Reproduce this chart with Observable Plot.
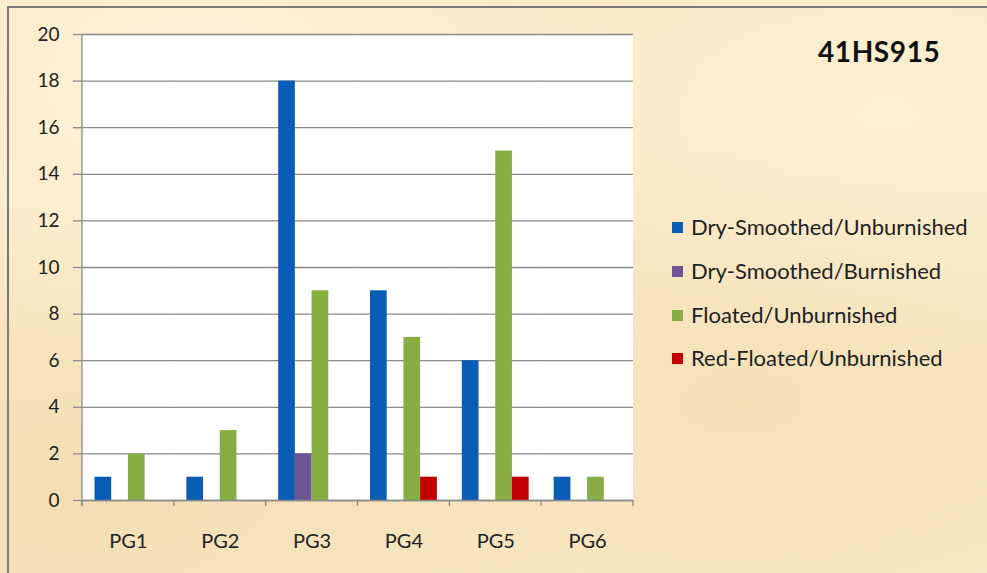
<!DOCTYPE html>
<html>
<head>
<meta charset="utf-8">
<script src="https://cdn.jsdelivr.net/npm/d3@7"></script>
<script src="https://cdn.jsdelivr.net/npm/@observablehq/plot@0.6"></script>
<style>
  html, body { margin: 0; padding: 0; }
  body {
    width: 987px; height: 573px; overflow: hidden;
    background:
      radial-gradient(ellipse at 20% 15%, rgba(255,248,225,0.7), rgba(255,248,225,0) 40%),
      radial-gradient(ellipse at 75% 70%, rgba(240,215,170,0.45), rgba(240,215,170,0) 45%),
      radial-gradient(ellipse at 10% 85%, rgba(238,212,165,0.5), rgba(238,212,165,0) 40%),
      radial-gradient(ellipse at 90% 20%, rgba(255,245,220,0.6), rgba(255,245,220,0) 40%),
      #f9e8c4;
    font-family: Lato, "Open Sans", sans-serif;
  }
  #wrap { position: relative; width: 987px; height: 573px; }
  #frame { position: absolute; left: 7px; top: 6px; right: -10px; bottom: -10px;
           border-left: 2px solid #7a7a7a; border-top: 2px solid #7a7a7a; pointer-events: none; }
  #chart svg { position: absolute; left: 0; top: 0; background: transparent; }
  #title { position: absolute; left: 818px; top: 37px; font-size: 28px; letter-spacing: 0.6px; font-weight: bold; color: #111; line-height: 1; }
  #legend { position: absolute; left: 672px; top: 0; }
  .item { position: absolute; left: 0; white-space: nowrap; display: flex; align-items: center; font-size: 22px; line-height: 24px; height: 24px; color: #222; }
  .sw { width: 11px; height: 11px; margin-right: 8px; }
</style>
</head>
<body>
<div id="wrap">
  <div id="chart"></div>
  <div id="title"></div>
  <div id="legend"></div>
  <div id="frame"></div>
</div>
<script>
const title = "41HS915";
const groups = ["PG1", "PG2", "PG3", "PG4", "PG5", "PG6"];
const series = ["Dry-Smoothed/Unburnished", "Dry-Smoothed/Burnished", "Floated/Unburnished", "Red-Floated/Unburnished"];
const colors = ["#0a5db5", "#6e5494", "#89ad45", "#c00000"];
const drySmoothedUnburnished = [1, 1, 18, 9, 6, 1];
const drySmoothedBurnished = [0, 0, 2, 0, 0, 0];
const floatedUnburnished = [2, 3, 9, 7, 15, 1];
const redFloatedUnburnished = [0, 0, 0, 1, 1, 0];
const yTicks = [0, 2, 4, 6, 8, 10, 12, 14, 16, 18, 20];

const valuesBySeries = [drySmoothedUnburnished, drySmoothedBurnished, floatedUnburnished, redFloatedUnburnished];
const rows = [];
groups.forEach((g, gi) => series.forEach((s, si) => rows.push({group: g, series: s, value: valuesBySeries[si][gi]})));

const gridColor = "#8a8a8a";

const chart = Plot.plot({
  width: 987,
  height: 573,
  marginLeft: 82,
  marginRight: 354,
  marginTop: 34,
  marginBottom: 73,
  style: {background: "transparent", fontFamily: "Lato, 'Open Sans', sans-serif", color: "#222", overflow: "visible"},
  fx: {domain: groups, padding: 0, round: false, label: null},
  x: {domain: series, padding: 0, round: false, insetLeft: 12.5, insetRight: 12.5, axis: null},
  y: {domain: [0, 20], label: null},
  color: {domain: series, range: colors},
  marks: [
    Plot.gridY(yTicks, {stroke: gridColor, strokeOpacity: 1, strokeWidth: 1.3}),
    Plot.barY(rows, {fx: "group", x: "series", y: "value", fill: "series"}),
    Plot.ruleY([0], {stroke: gridColor, strokeWidth: 1.3}),
    Plot.axisY(yTicks, {tickSize: 9, tickPadding: 14, stroke: gridColor, strokeWidth: 1.3, fill: "#222", fontSize: 19, label: null}),
    Plot.axisFx({anchor: "bottom", tickSize: 0, tickPadding: 33, fontSize: 20, fill: "#222", label: null})
  ]
});

document.getElementById("chart").appendChild(chart);

// white plot background, y-axis line and category boundary ticks, placed with the plot's own scales
const fx = chart.scale("fx");
const y = chart.scale("y");
const svg = d3.select(chart);
const x0 = fx.apply(groups[0]);
const x1 = fx.apply(groups[groups.length - 1]) + fx.bandwidth;
const y0 = y.apply(0), yTop = y.apply(20);
svg.insert("rect", ":first-child").attr("x", x0).attr("y", yTop).attr("width", x1 - x0).attr("height", y0 - yTop).attr("fill", "white");
const g = svg.append("g").attr("stroke", gridColor).attr("stroke-width", 1.3);
g.append("line").attr("x1", x0).attr("x2", x0).attr("y1", yTop).attr("y2", y0 + 6);
const bounds = groups.map(d => fx.apply(d)).concat([x1]);
bounds.forEach(b => g.append("line").attr("x1", b).attr("x2", b).attr("y1", y0).attr("y2", y0 + 6));

document.getElementById("title").textContent = title;
const legend = d3.select("#legend");
const rowTops = [215, 259, 303, 346];
series.forEach((s, i) => {
  const it = legend.append("div").attr("class", "item").style("top", rowTops[i] + "px");
  it.append("div").attr("class", "sw").style("background", colors[i]);
  it.append("span").text(s);
});
</script>
</body>
</html>
